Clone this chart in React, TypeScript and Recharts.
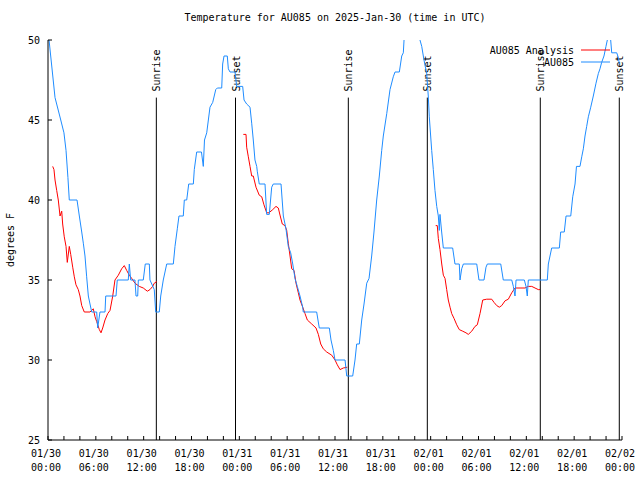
import React from "react";
import { LineChart, Line, XAxis, YAxis, ReferenceLine } from "recharts";

const FONT = "'DejaVu Sans Mono', 'Liberation Mono', monospace";

// hours after 2025-01-30 00:00 UTC
const obsHours = [
  0.13, 0.88, 1.6, 2.0, 2.26, 2.5, 2.67, 3.64, 3.93, 4.23, 4.43, 4.64, 4.85, 5.06, 5.27, 5.48,
  6.11, 6.23, 6.52, 7.15, 7.24, 8.53, 8.69, 10.07, 10.2, 10.37, 10.91, 11.04, 11.25, 11.33, 11.95,
  12.2, 12.71, 12.79, 13.33, 13.51, 13.96, 14.14, 14.46, 14.89, 15.72, 15.93, 16.22, 16.43, 16.97,
  17.1, 17.4, 17.65, 18.23, 18.35, 18.65, 19.25, 19.48, 19.63, 19.91, 20.32, 20.66, 21.04, 21.24,
  21.79, 21.91, 22.08, 22.49, 22.62, 22.83, 23.46, 23.67, 24.42, 24.59, 24.92, 25.34, 25.55, 25.75,
  25.96, 26.18, 26.25, 26.5, 27.22, 27.43, 27.76, 28.06, 28.26, 29.23, 29.52, 29.85, 30.14, 30.44,
  30.7, 30.98, 31.27, 31.61, 31.95, 32.02, 33.7, 34.03, 35.29, 35.5, 35.79, 36.0, 37.26, 37.47,
  38.22, 38.51, 38.72, 39.05, 39.35, 39.64, 39.98, 40.27, 40.6, 40.89, 41.23, 41.56, 41.86, 42.06,
  42.49, 42.9, 43.31, 43.53, 44.07, 44.37, 44.57, 44.66, 45.03, 46.41, 46.66, 46.88, 47.16, 47.5,
  47.7, 47.83, 48.0, 48.13, 48.33, 48.54, 48.76, 48.96, 49.08, 49.17, 49.38, 49.59, 50.76, 51.05,
  51.59, 51.68, 51.89, 52.1, 53.78, 54.06, 54.69, 54.94, 55.11, 56.79, 57.11, 58.17, 58.37, 58.58,
  58.71, 59.75, 59.96, 60.12, 60.25, 62.63, 62.76, 63.18, 64.14, 64.31, 64.76, 64.98, 65.57, 65.82,
  66.11, 66.29, 66.73, 66.95, 67.15, 67.36, 67.57, 67.78, 68.08, 68.4, 68.74, 69.03, 69.24, 69.45,
  69.74, 69.99, 70.16, 70.37, 70.58, 70.71, 71.34, 71.54, 71.67,
];
const obsTemps = [
  50, 46.4, 45, 44.2, 43.1, 41.4, 40, 40, 39, 38, 37.3, 36.5, 35.2, 34, 33.5, 33,
  33, 32, 33, 33, 34, 34, 35, 35, 36, 35, 35, 34, 34, 35, 35,
  36, 36, 35, 34.4, 33, 33, 34, 35, 36, 36, 37.1, 38.2, 39, 39,
  40, 40, 41, 41, 41.9, 43, 43, 42.1, 43.75, 44.2, 45.8, 46.1, 46.9, 47,
  47, 48.5, 49, 49, 48.2, 48, 48, 47.1, 47.1, 46.25, 46, 45.8, 44.8, 43.75,
  42.5, 42.1, 41.8, 41, 41, 39.1, 39.1, 40.8, 41, 41, 39, 38.2, 37.1, 36.7,
  36, 35.1, 34.6, 34, 33.3, 33, 33, 32, 32, 31.25, 30.6, 30, 30, 29,
  29, 30, 31, 31, 32.5, 33.5, 34.8, 35.1, 36.5, 38, 40, 41.5, 43.1, 44,
  45.4, 46.9, 47.7, 48, 48, 49, 49.2, 50, 50.8, 51, 50, 49.6, 48.75, 47.9,
  46.5, 45.2, 44, 43.1, 41.9, 40.6, 39.6, 39, 38.1, 39.1, 38, 37, 37, 36,
  36, 35, 35.7, 36, 36, 35, 35, 35.8, 36, 36, 35, 35, 34.6, 34,
  35, 35, 34.6, 34, 35, 35, 36, 37, 37, 38, 38, 39, 39, 40.2,
  41, 42.1, 42.1, 42.7, 43.2, 44, 44.6, 45.2, 45.8, 46.5, 47.3, 47.9, 48.2, 48.6,
  49, 49.6, 50, 50.6, 50, 49.2, 49.2, 48.9, 48.5,
];

// analysis only exists in three windows; null marks the gaps
const analysisHours = [
  0.59, 0.75, 0.88, 1.09, 1.29, 1.51, 1.72, 1.84, 2.04, 2.26, 2.42, 2.67, 2.85, 3.1, 3.3, 3.51,
  3.8, 4.01, 4.23, 4.55, 5.27, 5.68, 5.9, 6.11, 6.44, 6.65, 6.86, 7.15, 7.49, 7.78, 8.12, 8.4,
  8.82, 9.24, 9.57, 9.87, 10.2, 10.5, 10.91, 11.45, 11.95, 12.46, 12.79, 13.13, 13.33, 13.64,
  18,
  24.5, 24.84, 24.92, 25.13, 25.34, 25.55, 25.75, 26.09, 26.5, 26.81, 27.09, 27.43, 27.72, 28.19,
  28.6, 28.89, 29.1, 29.39, 29.73, 29.94, 30.14, 30.36, 30.57, 30.86, 31.11, 31.4, 31.61, 31.95,
  32.24, 32.53, 33.08, 33.62, 33.91, 34.21, 34.53, 34.96, 35.59, 36.0, 36.29, 36.63, 37.04, 37.54,
  43,
  48.63, 48.83, 48.96, 49.17, 49.39, 49.59, 49.8, 50.01, 50.21, 50.43, 50.64, 50.93, 51.27, 51.59,
  52.02, 52.43, 52.72, 53.15, 53.56, 53.85, 54.19, 54.53, 55.03, 55.66, 55.95, 56.29, 56.61, 56.91,
  57.33, 57.74, 58.17, 58.58, 59.21, 59.83, 60.25, 60.68, 61.09, 61.5, 61.72,
];
const analysisTemps = [
  42.1, 41.9, 41.25, 40.6, 40, 39, 39.3, 38.5, 37.7, 37.1, 36.1, 37.1, 36.6, 35.8, 35.2, 34.7,
  34.4, 34, 33.4, 33, 33, 33.2, 32.7, 32.4, 31.9, 31.7, 32, 32.5, 32.9, 33.1, 34, 35,
  35.3, 35.7, 35.9, 35.6, 35.3, 35.1, 34.8, 34.6, 34.5, 34.3, 34.4, 34.6, 34.8, 34.9,
  null,
  44.1, 44.1, 43.3, 42.7, 42.1, 41.5, 41.5, 40.8, 40.3, 40.2, 39.7, 39.2, 39.2, 39.4,
  39.6, 39.5, 39.06, 38.5, 38.4, 38.1, 37.3, 36.5, 35.7, 35.6, 34.8, 34.2, 33.75, 33.3,
  32.9, 32.5, 32.25, 32, 31.6, 31, 30.7, 30.5, 30.3, 30, 29.7, 29.4, 29.5, 29.55,
  null,
  38.4, 38.4, 37.6, 36.9, 36, 35.3, 35.1, 34.4, 33.75, 33.3, 32.9, 32.6, 32.2, 31.9,
  31.8, 31.7, 31.6, 31.8, 32.1, 32.2, 32.9, 33.75, 33.8, 33.8, 33.6, 33.4, 33.3, 33.4,
  33.7, 33.8, 34.2, 34.5, 34.5, 34.5, 34.6, 34.6, 34.5, 34.4, 34.4,
];

const sunHours = [13.59, 23.52, 37.67, 47.58, 61.75, 71.66];
const sunLabels = ["Sunrise", "Sunset", "Sunrise", "Sunset", "Sunrise", "Sunset"];

const xTicks = [
  0, 2, 4, 6, 8, 10, 12, 14, 16, 18, 20, 22, 24, 26, 28, 30, 32, 34, 36,
  38, 40, 42, 44, 46, 48, 50, 52, 54, 56, 58, 60, 62, 64, 66, 68, 70, 72,
];
const xDates = ["01/30", "01/30", "01/30", "01/30", "01/31", "01/31", "01/31", "01/31", "02/01", "02/01", "02/01", "02/01", "02/02"];
const xTimes = ["00:00", "06:00", "12:00", "18:00", "00:00", "06:00", "12:00", "18:00", "00:00", "06:00", "12:00", "18:00", "00:00"];
const yTicks = [25, 30, 35, 40, 45, 50];

const obsData = obsHours.map((h, i) => ({ h, t: obsTemps[i] }));
const analysisData = analysisHours.map((h, i) => ({ h, t: analysisTemps[i] }));

const txt = { fontFamily: FONT, fontSize: 10, fill: "#000" };

function BottomTick({ x, y, payload }: any) {
  const v = payload.value;
  const i = v % 6 === 0 ? v / 6 : -1;
  return (
    <g>
      <line x1={x} x2={x} y1={y} y2={y - 4} stroke="#000" />
      {i >= 0 && (
        <text x={x - 2} y={y + 17} textAnchor="middle" style={txt}>
          <tspan x={x - 2}>{xDates[i]}</tspan>
          <tspan x={x - 2} dy={14}>{xTimes[i]}</tspan>
        </text>
      )}
    </g>
  );
}

function TopTick({ x, y }: any) {
  return <line x1={x} x2={x} y1={y} y2={y + 4} stroke="#000" />;
}

function LeftTick({ x, y, payload }: any) {
  return (
    <g>
      <line x1={x} x2={x + 4} y1={y} y2={y} stroke="#000" />
      <text x={x - 8} y={y + 4} textAnchor="end" style={txt}>
        {payload.value}
      </text>
    </g>
  );
}

function RightTick({ x, y }: any) {
  return <line x1={x} x2={x - 4} y1={y} y2={y} stroke="#000" />;
}

function SunLabel({ viewBox, text }: any) {
  const x = viewBox.x + 4;
  const y = viewBox.y - 6;
  return (
    <text x={x} y={y} transform={`rotate(-90, ${x}, ${y})`} textAnchor="start" style={txt}>
      {text}
    </text>
  );
}

function KeyBox() {
  return (
    <svg
      width={140}
      height={28}
      style={{ position: "absolute", top: 44, left: 480, overflow: "visible", zIndex: 2 }}
    >
      <text x={94} y={10} textAnchor="end" style={txt}>AU085 Analysis</text>
      <line x1={101} x2={130} y1={6} y2={6} stroke="#ff0000" />
      <text x={94} y={22} textAnchor="end" style={txt}>AU085</text>
      <line x1={101} x2={130} y1={18} y2={18} stroke="#1e8cff" />
    </svg>
  );
}

export default function App() {
  return (
    <div style={{ position: "absolute", left: 0, top: 0, width: 640, height: 480, background: "#fff" }}>
      <div
        style={{
          position: "absolute",
          top: 12,
          left: 48,
          width: 574,
          textAlign: "center",
          fontFamily: FONT,
          fontSize: 10,
          color: "#000",
          zIndex: 2,
        }}
      >
        Temperature for AU085 on 2025-Jan-30 (time in UTC)
      </div>
      <LineChart width={640} height={480} margin={{ top: 40, right: 18, bottom: 10, left: 8 }}>
        <XAxis
          dataKey="h"
          type="number"
          domain={[0, 72]}
          ticks={xTicks}
          interval={0}
          tickSize={0}
          tickMargin={0}
          tickLine={false}
          height={30}
          axisLine={{ stroke: "#000" }}
          tick={<BottomTick />}
          allowDataOverflow
        />
        <XAxis
          xAxisId="top"
          orientation="top"
          dataKey="h"
          type="number"
          domain={[0, 72]}
          ticks={xTicks}
          interval={0}
          tickSize={0}
          tickMargin={0}
          tickLine={false}
          height={0}
          axisLine={{ stroke: "#000" }}
          tick={<TopTick />}
        />
        <YAxis
          type="number"
          domain={[25, 50]}
          ticks={yTicks}
          interval={0}
          tickSize={0}
          tickMargin={0}
          tickLine={false}
          width={40}
          axisLine={{ stroke: "#000" }}
          tick={<LeftTick />}
          allowDataOverflow
          label={({ viewBox }: any) => (
            <text
              x={viewBox.x + 6}
              y={viewBox.y + viewBox.height / 2}
              transform={`rotate(-90, ${viewBox.x + 6}, ${viewBox.y + viewBox.height / 2})`}
              textAnchor="middle"
              style={txt}
            >
              degrees F
            </text>
          )}
        />
        <YAxis
          yAxisId="r"
          orientation="right"
          type="number"
          domain={[25, 50]}
          ticks={yTicks}
          interval={0}
          tickSize={0}
          tickMargin={0}
          tickLine={false}
          width={0}
          axisLine={{ stroke: "#000" }}
          tick={<RightTick />}
        />
        {sunHours.map((h, i) => (
          <ReferenceLine
            key={i}
            segment={[{ x: h, y: 25 }, { x: h, y: 46.4 }]}
            stroke="#000"
            strokeWidth={1}
            label={(p: any) => <SunLabel {...p} text={sunLabels[i]} />}
          />
        ))}
        <Line
          data={analysisData}
          dataKey="t"
          name="AU085 Analysis"
          stroke="#ff0000"
          strokeWidth={1}
          dot={false}
          activeDot={false}
          connectNulls={false}
          isAnimationActive={false}
        />
        <Line
          data={obsData}
          dataKey="t"
          name="AU085"
          stroke="#1e8cff"
          strokeWidth={1}
          dot={false}
          activeDot={false}
          isAnimationActive={false}
        />
      </LineChart>
      <KeyBox />
    </div>
  );
}
